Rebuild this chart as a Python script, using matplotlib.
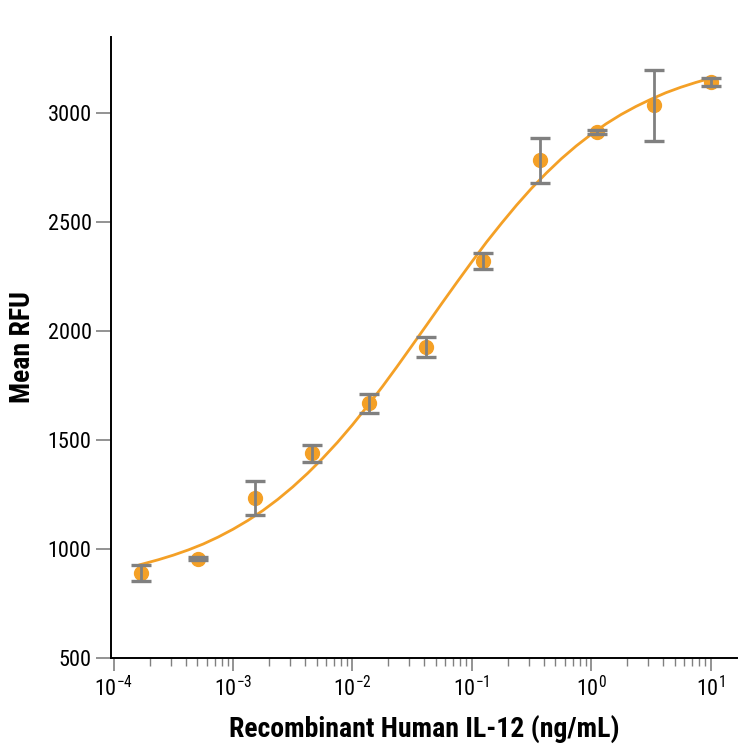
import numpy as np
import matplotlib
matplotlib.use("Agg")
import matplotlib.pyplot as plt
from matplotlib import font_manager
from matplotlib.ticker import LogLocator, NullFormatter

# concentration (ng/mL), mean RFU and error
conc = [0.000169, 0.000508, 0.00152, 0.00457, 0.0137, 0.0412, 0.123, 0.370, 1.11, 3.33, 10.0]
mean_rfu = [889, 956, 1233, 1439, 1668, 1928, 2323, 2784, 2914, 3037, 3144]
err_rfu = [36, 8, 77, 40, 42, 47, 37, 104, 10, 163, 20]

# fitted curve
curve_x = [1.66e-4, 2.37e-4, 3.16e-4, 4.22e-4, 5.62e-4, 7.5e-4, 1e-3, 1.33e-3,
           1.78e-3, 2.37e-3, 3.16e-3, 4.22e-3, 5.62e-3, 7.5e-3, 0.01, 0.0133,
           0.0178, 0.0237, 0.0316, 0.0422, 0.0562, 0.075, 0.1, 0.133,
           0.178, 0.237, 0.316, 0.422, 0.562, 0.75, 1.0, 1.33,
           1.78, 2.37, 3.16, 4.22, 5.62, 7.5, 9.77]
curve_y = [928, 951, 972, 996, 1023, 1055, 1091, 1131,
           1177, 1228, 1285, 1348, 1416, 1490, 1570, 1655,
           1745, 1838, 1934, 2031, 2128, 2224, 2318, 2409,
           2496, 2578, 2655, 2726, 2791, 2850, 2903, 2951,
           2994, 3031, 3064, 3094, 3119, 3141, 3159]

x_ticks = [1e-4, 1e-3, 1e-2, 1e-1, 1e0, 1e1]
x_ticklabels = ["$10^{-4}$", "$10^{-3}$", "$10^{-2}$", "$10^{-1}$", "$10^{0}$", "$10^{1}$"]
y_ticks = [500, 1000, 1500, 2000, 2500, 3000]

names = {f.name for f in font_manager.fontManager.ttflist}
fam = "DejaVu Sans"
for cand in ["Roboto Condensed", "Liberation Sans Narrow", "Open Sans Condensed", "Noto Sans"]:
    if cand in names:
        fam = cand
        break

plt.rcParams["font.family"] = [fam, "DejaVu Sans"]
plt.rcParams["mathtext.fontset"] = "custom"
plt.rcParams["mathtext.rm"] = fam
plt.rcParams["mathtext.it"] = fam
plt.rcParams["mathtext.bf"] = fam + ":bold"

orange = "#F4A026"
gray = "#808080"

fig = plt.figure(figsize=(7.5, 7.5), dpi=100)
ax = fig.add_axes([0.148, 0.1227, 0.835, 0.828])

ax.plot(conc, mean_rfu, "o", color=orange, markersize=10, zorder=2)
ax.plot(curve_x, curve_y, "-", color=orange, linewidth=2.0, zorder=3,
        solid_joinstyle="round")
ax.errorbar(conc, mean_rfu, yerr=err_rfu, fmt="none", ecolor=gray,
            elinewidth=2.0, capsize=7, capthick=2.4, zorder=4)

ax.set_xscale("log")
ax.set_xlim(10 ** -4.023, 10 ** 1.224)
ax.set_ylim(500, 3350)

ax.set_xticks(x_ticks)
ax.set_xticklabels(x_ticklabels)
ax.xaxis.set_minor_locator(LogLocator(base=10, subs=np.arange(2, 10), numticks=20))
ax.xaxis.set_minor_formatter(NullFormatter())
ax.set_yticks(y_ticks)

ax.spines["top"].set_visible(False)
ax.spines["right"].set_visible(False)
ax.spines["left"].set_linewidth(1.4)
ax.spines["bottom"].set_linewidth(1.4)

ax.tick_params(axis="x", which="major", direction="out", length=9, width=1.2,
               color=gray, labelsize=16, pad=4)
ax.tick_params(axis="x", which="minor", direction="out", length=5.5, width=1.0, color=gray)
ax.tick_params(axis="y", which="major", direction="out", length=11, width=1.2,
               color=gray, labelsize=16, pad=3)

ax.set_xlabel("Recombinant Human IL-12 (ng/mL)", fontsize=20, fontweight="bold", labelpad=10)
ax.set_ylabel("Mean RFU", fontsize=20, fontweight="bold", labelpad=8)

fig.savefig("out.png", dpi=100)
